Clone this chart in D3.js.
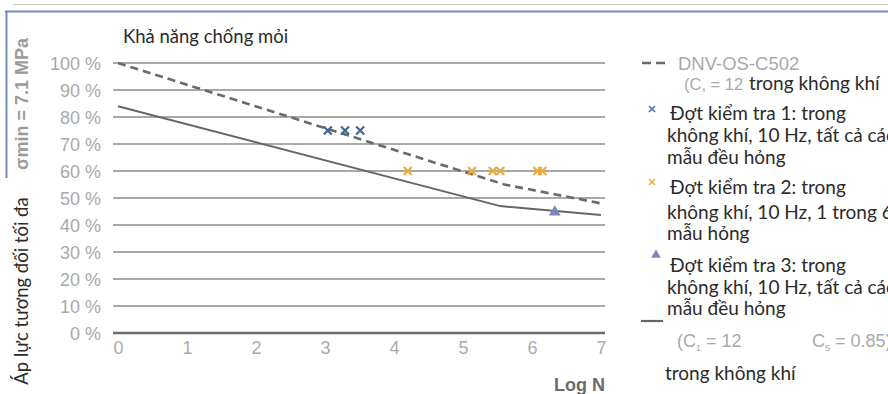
<!DOCTYPE html>
<html>
<head>
<meta charset="utf-8">
<script src="https://cdn.jsdelivr.net/npm/d3@7"></script>
<style>
  body { margin: 0; background: #fff; }
  svg { display: block; }
</style>
</head>
<body>
<div id="chart"></div>
<script>
// data
var yTicks = [0, 10, 20, 30, 40, 50, 60, 70, 80, 90, 100];
var xTicks = [0, 1, 2, 3, 4, 5, 6, 7];
var dnvCurve = [[0, 100], [5.6, 55], [7, 48]];     // dashed
var meanCurve = [[0, 84], [5.54, 47], [7, 43.7]];  // solid
var test1 = [[3.04, 75], [3.29, 75], [3.51, 75]];
var test2 = [[4.2, 60], [5.13, 60], [5.43, 60], [5.54, 60], [6.08, 60], [6.15, 60]];
var test3 = [[6.33, 44.8]];

var width = 888, height = 394;
var svg = d3.select("#chart").append("svg")
    .attr("width", width)
    .attr("height", height);

var x = d3.scaleLinear().domain([0, 7]).range([118, 601]);
var y = d3.scaleLinear().domain([0, 100]).range([333, 63]);

var sans = "'Liberation Sans', Arial, sans-serif";
var cal = "Lato, 'Open Sans', sans-serif";

// frame bits from the screenshot
svg.append("line").attr("x1", 13).attr("x2", width).attr("y1", 4.5).attr("y2", 4.5)
    .attr("stroke", "#c8c8c8").attr("stroke-width", 1);
svg.append("line").attr("x1", 5).attr("x2", width).attr("y1", 11.5).attr("y2", 11.5)
    .attr("stroke", "#6d8fbf").attr("stroke-width", 2);
svg.append("line").attr("x1", 6.5).attr("x2", 6.5).attr("y1", 11).attr("y2", 178)
    .attr("stroke", "#6d8fbf").attr("stroke-width", 2);

// grid lines
svg.append("g").selectAll("line")
    .data(yTicks)
  .enter().append("line")
    .attr("x1", 113).attr("x2", 605)
    .attr("y1", function(d) { return y(d); })
    .attr("y2", function(d) { return y(d); })
    .attr("stroke", function(d) { return d === 0 ? "#6a6a6a" : "#8c8c8c"; })
    .attr("stroke-width", function(d) { return d === 0 ? 2.6 : 1.6; });

// y axis labels
var yAxis = d3.axisLeft(y).tickValues(yTicks).tickSize(0).tickPadding(0)
    .tickFormat(function(d) { return d + " %"; });
var gy = svg.append("g").attr("transform", "translate(101,0)").call(yAxis);
gy.select(".domain").remove();
gy.selectAll("text")
    .attr("fill", "#a9a9a9")
    .style("font-family", sans)
    .style("font-size", "18px")
    .attr("dy", "0.36em");

// x axis labels
var xAxis = d3.axisBottom(x).tickValues(xTicks).tickSize(0).tickPadding(0)
    .tickFormat(d3.format("d"));
var gx = svg.append("g").attr("transform", "translate(0,348)").call(xAxis);
gx.select(".domain").remove();
gx.selectAll("text")
    .attr("fill", "#ababab")
    .attr("dy", "0.36em")
    .style("font-family", sans)
    .style("font-size", "18px");

svg.append("text")
    .attr("x", 605).attr("y", 391)
    .attr("text-anchor", "end")
    .attr("fill", "#6b6b6b")
    .style("font-family", sans)
    .style("font-weight", "bold")
    .style("font-size", "18px")
    .text("Log N");

// curves
var line = d3.line()
    .x(function(d) { return x(d[0]); })
    .y(function(d) { return y(d[1]); });

svg.append("path")
    .datum(meanCurve)
    .attr("d", line)
    .attr("fill", "none")
    .attr("stroke", "#666")
    .attr("stroke-width", 2);

svg.append("path")
    .datum(dnvCurve)
    .attr("d", line)
    .attr("fill", "none")
    .attr("stroke", "#6a6a6a")
    .attr("stroke-width", 2.6)
    .attr("stroke-dasharray", "8,5");

// markers
function cross(s) {
  return "M" + (-s) + "," + (-s) + "L" + s + "," + s + "M" + s + "," + (-s) + "L" + (-s) + "," + s;
}
svg.append("g").selectAll("path")
    .data(test1)
  .enter().append("path")
    .attr("transform", function(d) { return "translate(" + x(d[0]) + "," + y(d[1]) + ")"; })
    .attr("d", cross(4))
    .attr("stroke", "#3f6592")
    .attr("stroke-width", 2.2);

svg.append("g").selectAll("path")
    .data(test2)
  .enter().append("path")
    .attr("transform", function(d) { return "translate(" + x(d[0]) + "," + y(d[1]) + ")"; })
    .attr("d", cross(4))
    .attr("stroke", "#f2a93b")
    .attr("stroke-width", 2.2);

var tri = d3.symbol().type(d3.symbolTriangle).size(60);
svg.append("g").selectAll("path")
    .data(test3)
  .enter().append("path")
    .attr("transform", function(d) { return "translate(" + x(d[0]) + "," + y(d[1]) + ")"; })
    .attr("d", tri)
    .attr("fill", "#7c86bd");

// left titles
svg.append("text")
    .attr("x", 123).attr("y", 43)
    .attr("fill", "#2b2b2b")
    .style("font-family", cal)
    .style("font-size", "18.5px")
    .text("Khả năng chống mỏi");

svg.append("text")
    .attr("transform", "translate(28,104) rotate(-90)")
    .attr("text-anchor", "middle")
    .attr("fill", "#9b9b9b")
    .style("font-family", sans)
    .style("font-weight", "bold")
    .style("font-size", "18px")
    .text("σmin = 7.1 MPa");

svg.append("text")
    .attr("transform", "translate(28,291) rotate(-90)")
    .attr("text-anchor", "middle")
    .attr("fill", "#2b2b2b")
    .style("font-family", cal)
    .style("font-size", "18.5px")
    .text("Áp lực tương đối tối đa");

// legend
var lg = svg.append("g");
lg.append("line").attr("x1", 642).attr("x2", 668).attr("y1", 63).attr("y2", 63)
    .attr("stroke", "#6a6a6a").attr("stroke-width", 2.6).attr("stroke-dasharray", "9,5");
lg.append("text").attr("x", 678).attr("y", 70)
    .attr("fill", "#a9a9a9").style("font-family", sans).style("font-size", "18.5px")
    .text("DNV-OS-C502");
lg.append("text").attr("x", 684).attr("y", 90)
    .attr("fill", "#a9a9a9").style("font-family", sans).style("font-size", "16.5px")
    .text("(C, = 12");
lg.append("text").attr("x", 749).attr("y", 90)
    .attr("fill", "#2b2b2b").style("font-family", cal).style("font-size", "19px")
    .text("trong không khí");

lg.append("path").attr("transform", "translate(652,109)").attr("d", cross(3))
    .attr("stroke", "#4a73a8").attr("stroke-width", 1.6);
lg.append("path").attr("transform", "translate(652,182)").attr("d", cross(3))
    .attr("stroke", "#f2a93b").attr("stroke-width", 1.6);
lg.append("path").attr("transform", "translate(656,255)")
    .attr("d", d3.symbol().type(d3.symbolTriangle).size(40))
    .attr("fill", "#7c86bd");
lg.append("line").attr("x1", 641).attr("x2", 663).attr("y1", 321).attr("y2", 321)
    .attr("stroke", "#666").attr("stroke-width", 2.2);

var legendLines = [
  ["Đợt kiểm tra 1: trong", 670, 120],
  ["không khí, 10 Hz, tất cả các", 667, 142],
  ["mẫu đều hỏng", 667, 164],
  ["Đợt kiểm tra 2: trong", 670, 194],
  ["không khí, 10 Hz, 1 trong 6", 667, 219],
  ["mẫu hỏng", 667, 240],
  ["Đợt kiểm tra 3: trong", 670, 272],
  ["không khí, 10 Hz, tất cả các", 667, 294],
  ["mẫu đều hỏng", 667, 315],
  ["trong không khí", 665, 380]
];
lg.selectAll(".lt")
    .data(legendLines)
  .enter().append("text")
    .attr("class", "lt")
    .attr("x", function(d) { return d[1]; })
    .attr("y", function(d) { return d[2]; })
    .attr("fill", "#2b2b2b")
    .style("font-family", cal)
    .style("font-size", "19px")
    .text(function(d) { return d[0]; });

var c1 = lg.append("text").attr("x", 677).attr("y", 347)
    .attr("fill", "#a9a9a9").style("font-family", sans).style("font-size", "18px");
c1.append("tspan").text("(C");
c1.append("tspan").attr("dy", 4).style("font-size", "9px").text("1");
c1.append("tspan").attr("dy", -4).text(" = 12");
var c5 = lg.append("text").attr("x", 812).attr("y", 347)
    .attr("fill", "#a9a9a9").style("font-family", sans).style("font-size", "18px");
c5.append("tspan").text("C");
c5.append("tspan").attr("dy", 4).style("font-size", "9px").text("5");
c5.append("tspan").attr("dy", -4).text(" = 0.85)");
</script>
</body>
</html>
